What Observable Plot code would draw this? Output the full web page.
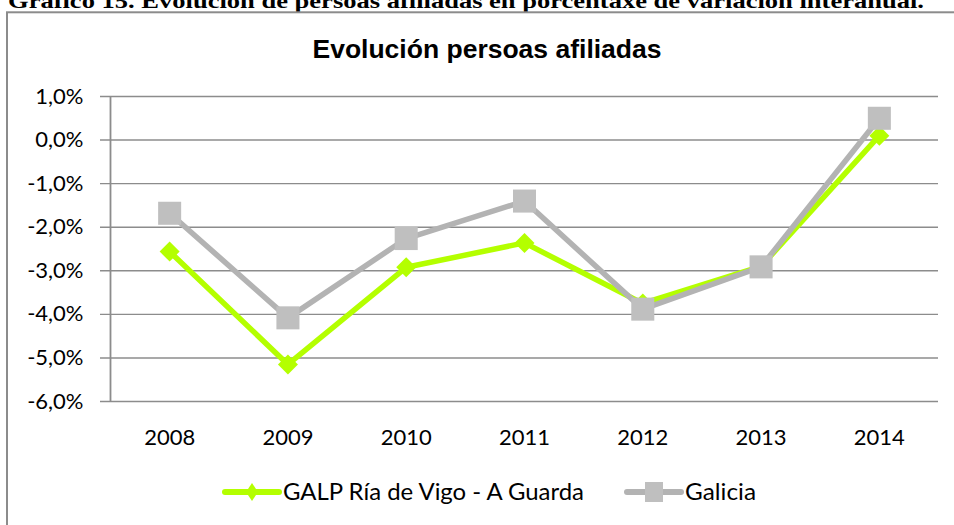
<!DOCTYPE html>
<html><head><meta charset="utf-8">
<script src="https://cdn.jsdelivr.net/npm/d3@7"></script>
<script src="https://cdn.jsdelivr.net/npm/@observablehq/plot@0.6"></script>
<style>
html,body{margin:0;padding:0;background:#fff;}
#root{position:relative;width:954px;height:525px;overflow:hidden;background:#fff;}
#root > svg{position:absolute;left:0;}
</style></head><body><div id="root"></div>
<script>
// ---- data ----
const years = [2008, 2009, 2010, 2011, 2012, 2013, 2014];
const galpValues = [-2.56, -5.15, -2.92, -2.36, -3.75, -2.90, 0.10];
const galiciaValues = [-1.68, -4.08, -2.26, -1.40, -3.88, -2.91, 0.50];
const seriesNames = ["GALP Ría de Vigo - A Guarda", "Galicia"];
const yTicks = [1, 0, -1, -2, -3, -4, -5, -6];
const chartTitle = "Evolución persoas afiliadas";
const captionText = "Gráfico 15. Evolución de persoas afiliadas en porcentaxe de variación interanual.";

const green = "#b4ff00";
const grayLine = "#b3b3b3";
const grayMarker = "#bfbfbf";
const axisGray = "#8c8c8c";

const galp = years.map((year, i) => ({year, value: galpValues[i]}));
const galicia = years.map((year, i) => ({year, value: galiciaValues[i]}));
const fmt = d => d.toFixed(1).replace(".", ",") + "%";

const root = document.getElementById("root");

// ---- decoration: caption, outer box, title, legend ----
const deco = d3.select(root).append("svg")
  .attr("width", 954).attr("height", 525).style("top", "0px");

deco.append("text")
  .attr("x", 8).attr("y", 8)
  .attr("textLength", 916).attr("lengthAdjust", "spacingAndGlyphs")
  .style("font-family", "'Liberation Serif', 'Times New Roman', serif")
  .style("font-weight", "bold").style("font-size", "22px")
  .text(captionText);

deco.append("rect")
  .attr("x", 7).attr("y", 12.3).attr("width", 2000).attr("height", 2000)
  .attr("fill", "none").attr("stroke", axisGray).attr("stroke-width", 2);

deco.append("text")
  .attr("x", 487).attr("y", 58.3).attr("text-anchor", "middle")
  .style("font-family", "'Liberation Sans', Arial, sans-serif")
  .style("font-weight", "bold").style("font-size", "26.5px")
  .text(chartTitle);

// legend
const lg = deco.append("g").style("font-family", "Lato, sans-serif").style("font-size", "23px");
const ly = 492;
lg.append("line").attr("x1", 225).attr("x2", 279).attr("y1", ly).attr("y2", ly)
  .attr("stroke", green).attr("stroke-width", 6).attr("stroke-linecap", "round");
lg.append("path").attr("d", `M252,${ly-9}L258,${ly}L252,${ly+9}L246,${ly}Z`).attr("fill", green);
lg.append("text").attr("x", 283).attr("y", ly).attr("dy", "0.36em")
  .attr("textLength", 301).attr("lengthAdjust", "spacingAndGlyphs").text(seriesNames[0]);
lg.append("line").attr("x1", 627).attr("x2", 681).attr("y1", ly).attr("y2", ly)
  .attr("stroke", grayLine).attr("stroke-width", 6).attr("stroke-linecap", "round");
lg.append("rect").attr("x", 645).attr("y", ly - 10).attr("width", 18).attr("height", 20).attr("fill", grayMarker);
lg.append("text").attr("x", 685).attr("y", ly).attr("dy", "0.36em")
  .attr("textLength", 71).attr("lengthAdjust", "spacingAndGlyphs").text(seriesNames[1]);

// ---- chart ----
const chart = Plot.plot({
  width: 954,
  height: 380,
  marginLeft: 110,
  marginRight: 16,
  marginTop: 26,
  marginBottom: 49,
  style: {fontFamily: "Lato, sans-serif", fontSize: "22px", color: "#000", background: "transparent", overflow: "visible"},
  x: {type: "linear", domain: [2007.5, 2014.5], label: null},
  y: {domain: [-6, 1], label: null},
  marks: [
    Plot.ruleY(yTicks, {stroke: axisGray, strokeWidth: 1.4, insetLeft: -10}),
    Plot.ruleX([2007.5], {stroke: axisGray, strokeWidth: 1.8}),
    Plot.axisY({ticks: yTicks, tickSize: 0, tickPadding: 27, tickFormat: fmt, label: null}),
    Plot.axisX({ticks: years, tickSize: 0, tickPadding: 28, tickFormat: d => String(d), label: null}),
    Plot.line(galp, {x: "year", y: "value", stroke: green, strokeWidth: 5.5}),
    Plot.dot(galp, {x: "year", y: "value", symbol: "diamond2", r: 9, fill: green, stroke: null}),
    Plot.line(galicia, {x: "year", y: "value", stroke: grayLine, strokeWidth: 5.5}),
    Plot.dot(galicia, {x: "year", y: "value", symbol: "square", r: 13, fill: grayMarker, stroke: null})
  ]
});
chart.style.position = "absolute";
chart.style.top = "70px";
chart.style.left = "0px";
root.appendChild(chart);
</script>
</body></html>
